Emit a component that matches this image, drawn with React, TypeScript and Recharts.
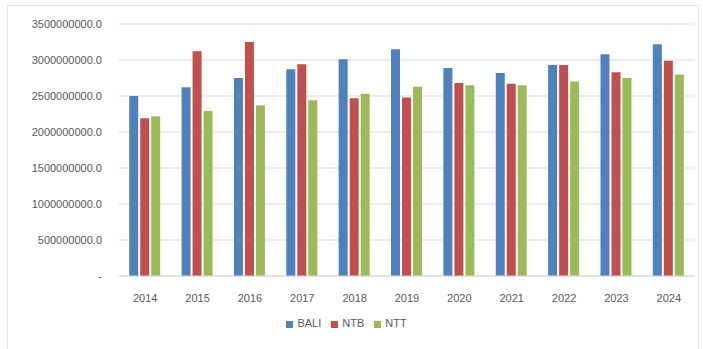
import React from "react";
import { BarChart, Bar, XAxis, YAxis, CartesianGrid, Legend } from "recharts";

const years = ["2014", "2015", "2016", "2017", "2018", "2019", "2020", "2021", "2022", "2023", "2024"];
const bali = [2500000000, 2620000000, 2750000000, 2870000000, 3010000000, 3150000000, 2890000000, 2820000000, 2930000000, 3080000000, 3220000000];
const ntb = [2190000000, 3120000000, 3250000000, 2940000000, 2470000000, 2480000000, 2680000000, 2670000000, 2930000000, 2830000000, 2990000000];
const ntt = [2220000000, 2290000000, 2370000000, 2440000000, 2530000000, 2630000000, 2650000000, 2650000000, 2700000000, 2750000000, 2800000000];
const yTicks = [0, 500000000, 1000000000, 1500000000, 2000000000, 2500000000, 3000000000, 3500000000];
const seriesNames = ["BALI", "NTB", "NTT"];

const data = years.map((y, i) => ({ year: y, BALI: bali[i], NTB: ntb[i], NTT: ntt[i] }));

const colors = ["#4F81BD", "#C0504D", "#9BBB59"];
const font = "'Liberation Sans', Arial, sans-serif";

export default function App() {
  return (
    <div style={{ position: "fixed", left: 0, top: 0, width: 703, height: 349, background: "#fff" }}>
      <div
        style={{
          position: "absolute",
          left: 7,
          top: 5,
          width: 692,
          height: 350,
          border: "1px solid #e4e4e4",
          boxSizing: "border-box",
        }}
      />
      <div style={{ position: "absolute", left: 0, top: 0 }}>
        <BarChart
          width={703}
          height={349}
          data={data}
          margin={{ top: 24, right: 8, left: 0, bottom: 31 }}
          barCategoryGap="19.5%"
          barGap={2}
        >
          <CartesianGrid horizontal vertical={false} stroke="#d9d9d9" />
          <XAxis
            dataKey="year"
            axisLine={{ stroke: "#d9d9d9" }}
            tickLine={false}
            tick={{ fill: "#595959", fontSize: 11, fontFamily: font }}
            tickMargin={12}
            height={30}
          />
          <YAxis
            width={119}
            domain={[0, 3500000000]}
            ticks={yTicks}
            axisLine={false}
            tickLine={false}
            tickSize={0}
            tickMargin={17}
            interval={0}
            tick={{ fill: "#595959", fontSize: 11, fontFamily: font }}
            tickFormatter={(v: number) => (v === 0 ? "-" : v.toFixed(1))}
          />
          <Legend
            verticalAlign="bottom"
            align="center"
            iconType="square"
            iconSize={7}
            wrapperStyle={{ top: 317, left: 0, width: 703, fontSize: 11, fontFamily: font }}
            formatter={(value: string) => <span style={{ color: "#595959" }}>{value}</span>}
          />
          {seriesNames.map((name, i) => (
            <Bar key={name} dataKey={name} fill={colors[i]} isAnimationActive={false} />
          ))}
        </BarChart>
      </div>
    </div>
  );
}
